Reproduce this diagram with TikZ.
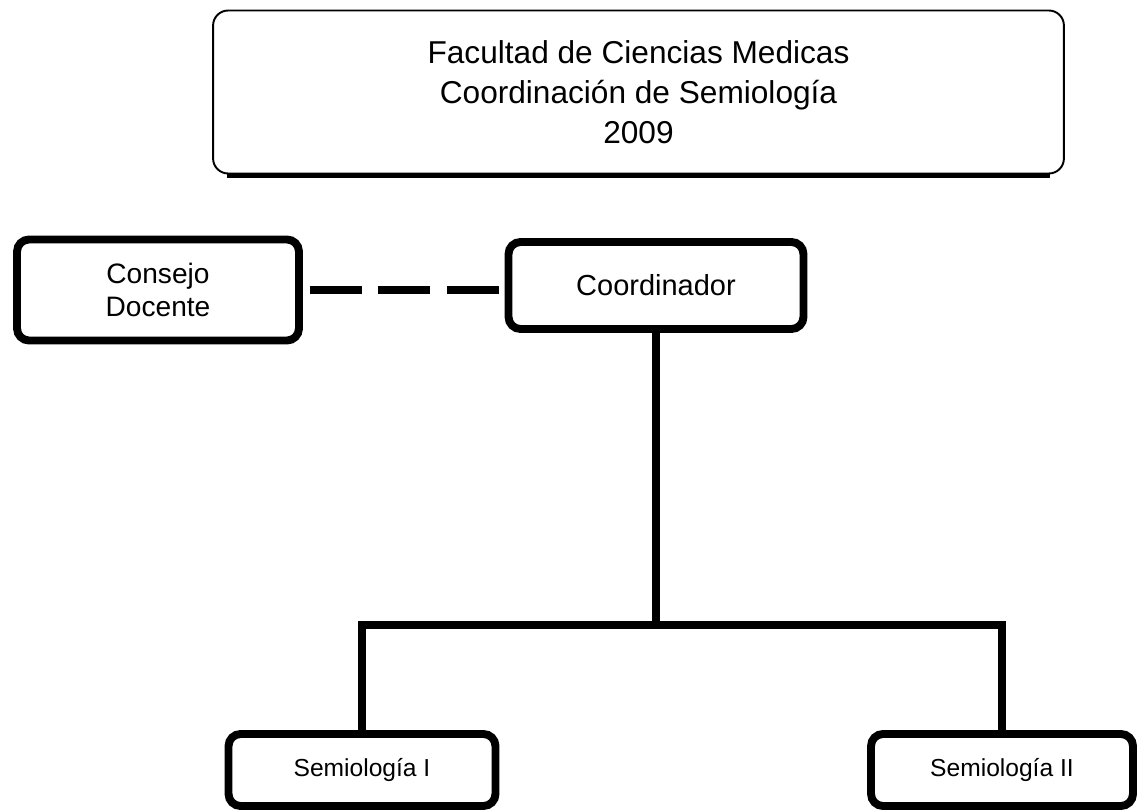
\documentclass[tikz,border=0pt]{standalone}
\usepackage{fontspec}
\setmainfont{Liberation Sans}
\usetikzlibrary{positioning}
\tikzset{caja/.style={draw,line width=4.5pt,rounded corners=0.24cm,align=center,inner sep=0pt},
  marco/.style={draw,line width=1.1pt,rounded corners=0.3cm,align=center,inner sep=0pt},
  linea/.style={line width=4.8pt}}

\begin{document}
\begin{tikzpicture}[x=0.02cm,y=-0.02cm]
            \useasboundingbox (0,0) rectangle (1137,811);
            \node [marco,minimum width=17.02cm,minimum height=3.26cm,
                font=\fontsize{18}{22.7}\selectfont] (fac) at (638.5,92)
                {Facultad de Ciencias Medicas\\Coordinación de Semiología\\2009};
            \draw [line width=2.8pt] ([xshift=0.3cm,yshift=-0.03cm]fac.south west) -- ([xshift=-0.3cm,yshift=-0.03cm]fac.south east);
            \node [caja,minimum width=5.64cm,minimum height=2.02cm,
                font=\fontsize{16}{18.5}\selectfont] (consejo) at (158,290) {Consejo\\Docente};
            \node [caja,minimum width=5.9cm,minimum height=1.74cm,
                font=\fontsize{16.5}{19}\selectfont] (coord) at (656,285.5) {Coordinador};
            \node [caja,minimum width=5.34cm,minimum height=1.44cm,
                font=\fontsize{14}{17}\selectfont] (sem1) at (362,770) {Semiología I};
            \node [caja,minimum width=5.24cm,minimum height=1.44cm,
                font=\fontsize{14}{17}\selectfont] (sem2) at (1002,770) {Semiología II};
            \coordinate (bus) at (656,625);
            %lineas
            \draw [linea,dash pattern=on 1.04cm off 0.33cm,shorten <=0.14cm] (consejo.east) -- (consejo.east -| coord.west);
            \draw [linea] (coord.south) -- (bus);
            \draw [linea] (sem1.north) |- (bus) -| (sem2.north);
        \end{tikzpicture}
\end{document}
